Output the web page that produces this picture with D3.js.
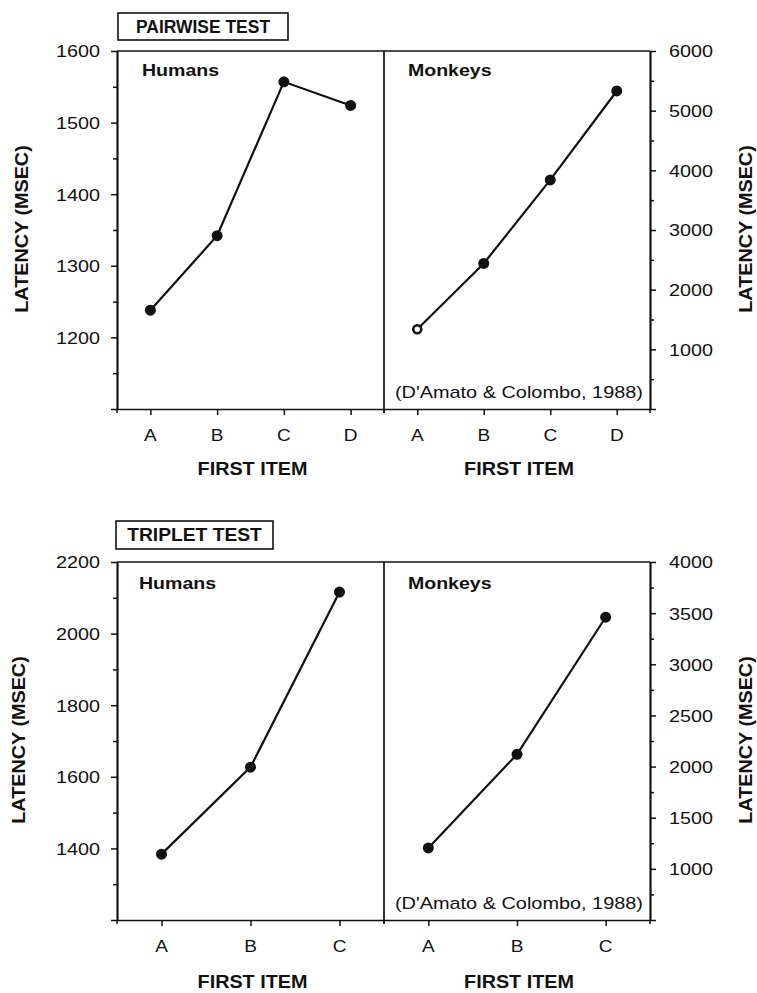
<!DOCTYPE html>
<html>
<head>
<meta charset="utf-8">
<script src="https://cdn.jsdelivr.net/npm/d3@7/dist/d3.min.js"></script>
<style>
  html, body { margin: 0; padding: 0; background: #fff; }
  svg { display: block; }
  text { font-family: "Liberation Sans", Arial, Helvetica, sans-serif; fill: #111; }
</style>
</head>
<body>
<svg id="chart" width="757" height="993"></svg>
<script>
// ---------------- DATA ----------------
const pairCategories = ["A", "B", "C", "D"];
const tripCategories = ["A", "B", "C"];
const pairHumans  = [1238, 1342, 1557, 1524];
const pairMonkeys = [1336, 2440, 3840, 5330];
const tripHumans  = [1384, 1627, 2116];
const tripMonkeys = [1205, 2120, 3460];

const pairHumanTicks  = [1100, 1200, 1300, 1400, 1500, 1600];
const pairMonkeyTicks = [0, 1000, 2000, 3000, 4000, 5000, 6000];
const tripHumanTicks  = [1200, 1400, 1600, 1800, 2000, 2200];
const tripMonkeyTicks = [500, 1000, 1500, 2000, 2500, 3000, 3500, 4000];

const sectionTitles = ["PAIRWISE TEST", "TRIPLET TEST"];
const panelLabels = ["Humans", "Monkeys"];
const xTitle = "FIRST ITEM";
const yTitle = "LATENCY (MSEC)";
const citation = "(D'Amato & Colombo, 1988)";

// ---------------- LAYOUT ----------------
const svg = d3.select("#chart");
const L = 117, M = 384, R = 650;
const INK = "#111";

function txt(g, x, y, s, o) {
  o = o || {};
  const sx = o.sx || 1;
  const rot = o.rot ? ` rotate(${o.rot})` : "";
  return g.append("text")
    .attr("transform", `translate(${x},${y})${rot} scale(${sx},1)`)
    .attr("text-anchor", o.anchor || "start")
    .attr("dy", o.dy || null)
    .style("font-size", (o.size || 16) + "px")
    .style("font-weight", o.weight || "normal")
    .text(s);
}

function styleAxis(g) {
  g.selectAll("path.domain").attr("stroke", INK).attr("stroke-width", 1.7);
  g.selectAll(".tick line").attr("stroke", INK).attr("stroke-width", 1.5);
  g.attr("font-family", null).attr("font-size", null);
}

function drawPanel(cfg) {
  const { x0, x1, y0, y1, cats, values, ticks, minorStep, side, open } = cfg;
  const g = svg.append("g");
  const x = d3.scalePoint().domain(cats).range([x0, x1]).padding(0.5);
  const y = d3.scaleLinear().domain([ticks[0], ticks[ticks.length - 1]]).range([y1, y0]);

  // minor ticks
  const minor = d3.range(ticks[0], ticks[ticks.length - 1] + 0.001, minorStep)
    .filter(v => !ticks.includes(v));
  const minorAxis = (side === "left" ? d3.axisLeft(y) : d3.axisRight(y))
    .tickValues(minor).tickSize(4).tickSizeOuter(0).tickFormat("");
  const mg = g.append("g").attr("transform", `translate(${side === "left" ? x0 : x1},0)`).call(minorAxis);
  styleAxis(mg);

  // major ticks with labels
  const majorAxis = (side === "left" ? d3.axisLeft(y) : d3.axisRight(y))
    .tickValues(ticks).tickSize(6).tickSizeOuter(0)
    .tickFormat((d, i) => i === 0 ? "" : d3.format("d")(d));
  const ag = g.append("g").attr("transform", `translate(${side === "left" ? x0 : x1},0)`).call(majorAxis);
  styleAxis(ag);
  ag.selectAll(".tick text")
    .attr("x", null).attr("dy", "0.36em")
    .attr("transform", side === "left" ? "translate(-17,0) scale(1.2,1)" : "translate(19,0) scale(1.2,1)")
    .style("font-size", "16.5px").attr("fill", INK);

  // x axis
  const xAxis = d3.axisBottom(x).tickSize(6).tickSizeOuter(0);
  const xg = g.append("g").attr("transform", `translate(0,${y1})`).call(xAxis);
  styleAxis(xg);
  xg.selectAll(".tick text").remove();
  cats.forEach(c => txt(g, x(c), cfg.xLabelY, c, { size: 17, anchor: "middle", sx: 1.12 }));
  // edge ticks on x axis
  g.selectAll("line.edge").data([x0, x1]).enter().append("line")
    .attr("x1", d => d).attr("x2", d => d).attr("y1", y1).attr("y2", y1 + 4)
    .attr("stroke", INK).attr("stroke-width", 1.5);

  // data line + dots
  const pts = cats.map((c, i) => [x(c), y(values[i])]);
  g.append("path").attr("d", d3.line()(pts))
    .attr("fill", "none").attr("stroke", INK).attr("stroke-width", 2.2);
  g.selectAll("circle.dot").data(pts).enter().append("circle")
    .attr("cx", d => d[0]).attr("cy", d => d[1])
    .attr("r", (d, i) => (open && i === 0) ? 4 : 5.5)
    .attr("fill", (d, i) => (open && i === 0) ? "#fff" : INK)
    .attr("stroke", INK).attr("stroke-width", (d, i) => (open && i === 0) ? 2.6 : 0);

  return g;
}

function drawSection(s) {
  const { y0, y1, title, titleBox, cats, hum, mon, hTicks, hMinor, mTicks, mMinor, open } = s;
  // frame: top line + divider
  svg.append("line").attr("x1", L).attr("x2", R).attr("y1", y0).attr("y2", y0)
    .attr("stroke", INK).attr("stroke-width", 1.7);
  svg.append("line").attr("x1", M).attr("x2", M).attr("y1", y0).attr("y2", y1)
    .attr("stroke", INK).attr("stroke-width", 1.7);

  drawPanel({ x0: L, x1: M, y0, y1, cats, values: hum, ticks: hTicks, minorStep: hMinor, side: "left", xLabelY: s.xLabelY });
  drawPanel({ x0: M, x1: R, y0, y1, cats, values: mon, ticks: mTicks, minorStep: mMinor, side: "right", xLabelY: s.xLabelY, open });

  // title box
  svg.append("rect").attr("x", titleBox[0]).attr("y", titleBox[1])
    .attr("width", titleBox[2]).attr("height", titleBox[3])
    .attr("fill", "#fff").attr("stroke", INK).attr("stroke-width", 1.6);
  txt(svg, titleBox[0] + titleBox[2] / 2, titleBox[1] + titleBox[3] / 2, title,
      { size: 18, weight: "bold", anchor: "middle", dy: "0.36em", sx: s.titleSx });

  // panel labels
  txt(svg, s.humX, s.labelY, panelLabels[0], { size: 17, weight: "bold", sx: 1.15 });
  txt(svg, 408, s.labelY, panelLabels[1], { size: 17, weight: "bold", sx: 1.15 });

  // citation
  txt(svg, 643, s.citeY, citation, { size: 17, anchor: "end", sx: 1.17 });

  // x titles
  txt(svg, (L + M) / 2 + 2, s.xTitleY, xTitle, { size: 18, weight: "bold", anchor: "middle", sx: 1.1 });
  txt(svg, (M + R) / 2 + 2, s.xTitleY, xTitle, { size: 18, weight: "bold", anchor: "middle", sx: 1.1 });

  // y titles
  txt(svg, s.yTitleLX, s.yTitleCY, yTitle, { size: 18, weight: "bold", anchor: "middle", rot: -90, dy: "0.36em", sx: 1.1 });
  txt(svg, 746, s.yTitleCY, yTitle, { size: 18, weight: "bold", anchor: "middle", rot: -90, dy: "0.36em", sx: 1.1 });
}

drawSection({
  y0: 51, y1: 409, title: sectionTitles[0], titleBox: [118, 13, 170, 27], titleSx: 0.97,
  cats: pairCategories, hum: pairHumans, mon: pairMonkeys,
  hTicks: pairHumanTicks, hMinor: 50, mTicks: pairMonkeyTicks, mMinor: 500, open: true,
  xLabelY: 441, xTitleY: 475, labelY: 76, humX: 142, citeY: 398,
  yTitleLX: 22, yTitleCY: 229
});

drawSection({
  y0: 562, y1: 920, title: sectionTitles[1], titleBox: [116, 521, 157, 28], titleSx: 1.07,
  cats: tripCategories, hum: tripHumans, mon: tripMonkeys,
  hTicks: tripHumanTicks, hMinor: 100, mTicks: tripMonkeyTicks, mMinor: 250, open: false,
  xLabelY: 952, xTitleY: 988, labelY: 589, humX: 139, citeY: 909,
  yTitleLX: 19, yTitleCY: 740
});
</script>
</body>
</html>
